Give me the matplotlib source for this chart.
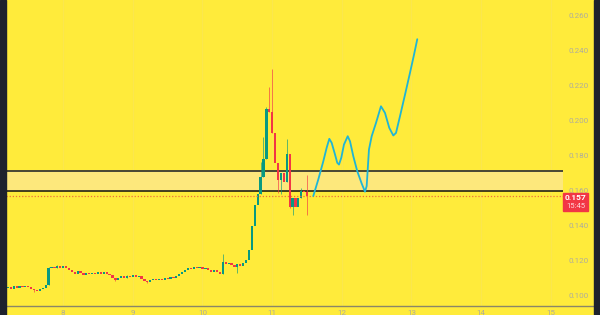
import matplotlib
matplotlib.use("Agg")
import matplotlib.pyplot as plt
from matplotlib.patches import Rectangle
from matplotlib.lines import Line2D

plt.rcParams['font.family'] = ['Roboto', 'DejaVu Sans']

# hourly candles, first one at day 7.21
start_day = 7.21
first_open = 0.1044
closes = [
    0.1050, 0.1042, 0.1055, 0.1048, 0.1058, 0.1050, 0.1060, 0.1052, 0.1040, 0.1032,
    0.1028, 0.1040, 0.1048, 0.1062, 0.1158, 0.1168, 0.1158, 0.1172, 0.1162, 0.1170,
    0.1158, 0.1148, 0.1140, 0.1128, 0.1142, 0.1130, 0.1122, 0.1132, 0.1124, 0.1134,
    0.1126, 0.1138, 0.1128, 0.1136, 0.1124, 0.1118, 0.1104, 0.1092, 0.1102, 0.1112,
    0.1104, 0.1115, 0.1108, 0.1118, 0.1110, 0.1114, 0.1100, 0.1086, 0.1080, 0.1092,
    0.1098, 0.1090, 0.1100, 0.1094, 0.1104, 0.1098, 0.1110, 0.1104, 0.1116, 0.1124,
    0.1140, 0.1150, 0.1162, 0.1152, 0.1166, 0.1158, 0.1168, 0.1156, 0.1162, 0.1148,
    0.1140, 0.1150, 0.1136, 0.1128, 0.1195, 0.1182, 0.1190, 0.1176, 0.1168, 0.1180,
    0.1170, 0.1188, 0.1205, 0.1260, 0.1400, 0.1520, 0.1580, 0.1680, 0.1780, 0.2070,
    0.2050, 0.1930, 0.1760, 0.1660, 0.1700, 0.1650, 0.1810, 0.1510, 0.1560, 0.1510,
    0.1560, 0.1600, 0.1595, 0.1570,
]
# notable wicks (candle index -> price)
highs = {14: 0.1165, 17: 0.1178, 41: 0.1120, 74: 0.1240, 87: 0.1766, 88: 0.1909,
         89: 0.2080, 90: 0.2194, 91: 0.2297, 96: 0.1897, 101: 0.1615, 103: 0.1691}
lows = {9: 0.1024, 37: 0.1086, 48: 0.1074, 79: 0.1131, 93: 0.1590, 94: 0.1580,
        97: 0.1500, 98: 0.1463, 103: 0.1463}

# drawn projection path (day, price)
proj_days = [11.591, 11.663, 11.735, 11.783, 11.821, 11.855, 11.903, 11.935, 11.960,
             11.993, 12.031, 12.085, 12.118, 12.165, 12.222, 12.285, 12.333, 12.357,
             12.372, 12.390, 12.429, 12.491, 12.562, 12.620, 12.681, 12.739, 12.778,
             12.835, 12.907, 12.978, 13.036, 13.083]
proj_prices = [0.1571, 0.1666, 0.1770, 0.1847, 0.1898, 0.1875, 0.1808, 0.1761, 0.1751,
               0.1790, 0.1865, 0.1913, 0.1884, 0.1799, 0.1713, 0.1643, 0.1596, 0.1628,
               0.1723, 0.1837, 0.1913, 0.1989, 0.2084, 0.2046, 0.1961, 0.1917, 0.1932,
               0.2027, 0.2150, 0.2274, 0.2378, 0.2467]

zone_low = 0.1600
zone_high = 0.1713
last_price = 0.157
last_label = "0.157"
countdown = "15:45"
price_ticks = [0.100, 0.120, 0.140, 0.160, 0.180, 0.200, 0.220, 0.240, 0.260]
day_ticks = [8, 9, 10, 11, 12, 13, 14, 15]

bg = '#ffeb3b'
up_col = '#089981'
dn_col = '#f23645'
txt_col = '#aeac9c'

W, H = 600, 315
fig = plt.figure(figsize=(6, 3.15), dpi=100, facecolor=bg)
ax = fig.add_axes([6 / W, (H - 306) / H, 557 / W, 306 / H])
ax.set_facecolor(bg)
ax.set_xlim(7.182, 15.174)
ax.set_ylim(0.09429, 0.26911)
for s in ax.spines.values():
    s.set_visible(False)
ax.set_xticks([])
ax.set_yticks([])

# faint day grid
for d in day_ticks:
    ax.axvline(d, color='#fbe74e', lw=0.8, zorder=0)

# zone band and its lines
ax.axhspan(zone_low, zone_high, color='#fde87c', zorder=1, lw=0)
ax.axhline(zone_high, color='#3a3a30', lw=1.3, zorder=2)
ax.axhline(zone_low, color='#111111', lw=1.1, zorder=2)

# candles
opens = [first_open] + closes[:-1]
xs = [start_day + i / 24 for i in range(len(closes))]
for i, (x, o, c) in enumerate(zip(xs, opens, closes)):
    col = up_col if c >= o else dn_col
    lo, hi = min(o, c), max(o, c)
    if hi - lo < 0.0005:
        hi = lo + 0.0005
    ax.bar(x, hi - lo, bottom=lo, width=0.032, color=col, lw=0, zorder=3)
    h = highs.get(i, hi)
    l = lows.get(i, lo)
    if h > hi or l < lo:
        ax.vlines(x, l, h, color=col, lw=0.7, alpha=0.65, zorder=3)

# last price dotted line
ax.axhline(last_price, color='#f0703a', lw=0.9, ls=(0, (1, 1.5)), zorder=4)

# projection
ax.plot(proj_days, proj_prices, color='#1fb5d6', lw=1.3, zorder=5,
        solid_joinstyle='round', solid_capstyle='round')

# right price scale
for p in price_ticks:
    ax.text(1.009, p, f"{p:.3f}", transform=ax.get_yaxis_transform(),
            ha='left', va='center', fontsize=5.8, color=txt_col, clip_on=False)

# last price box
fig.patches.append(Rectangle((563 / W, (H - 211) / H), 25 / W, 18 / H,
                             transform=fig.transFigure, color=dn_col, zorder=6))
fig.text(575.5 / W, (H - 198) / H, last_label, ha='center', va='center',
         fontsize=6, color='white', fontweight='bold', zorder=7)
fig.text(575.5 / W, (H - 206.5) / H, countdown, ha='center', va='center',
         fontsize=5.5, color='#ffd6da', zorder=7)

# time axis
fig.lines.append(Line2D([6 / W, 594 / W], [(H - 306) / H] * 2,
                        transform=fig.transFigure, color='#8a8668', lw=1))
for d in day_ticks:
    ax.text(d, -0.022, str(d), transform=ax.get_xaxis_transform(),
            ha='center', va='center', fontsize=5.8, color=txt_col, clip_on=False)

# dark frame edges
fig.patches.append(Rectangle((0, 0), 6 / W, 1, transform=fig.transFigure,
                             color='#1e222d', zorder=8))
fig.patches.append(Rectangle((594 / W, 0), 6 / W, 1, transform=fig.transFigure,
                             color='#1e222d', zorder=8))

fig.savefig("out.png", dpi=100, facecolor=bg)
